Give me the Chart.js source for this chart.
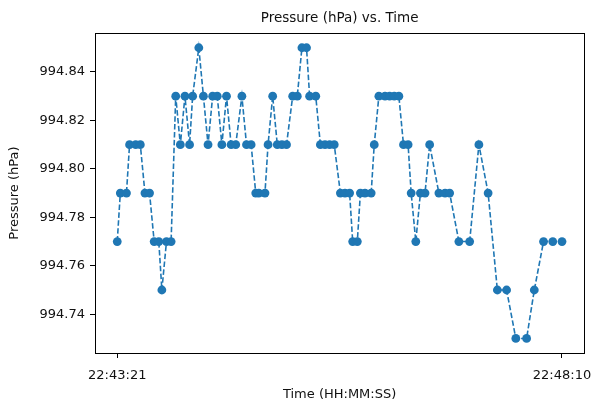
<!DOCTYPE html>
<html>
<head>
<meta charset="utf-8">
<script src="https://cdn.jsdelivr.net/npm/chart.js@4/dist/chart.umd.min.js"></script>
<style>
  html, body { margin: 0; padding: 0; background: #ffffff; }
  #wrap { width: 602px; height: 408px; }
</style>
</head>
<body>
<div id="wrap"><canvas id="c" width="602" height="408"></canvas></div>
<script>
// Sample timestamps (HH:MM:SS)
const times = [
  '22:43:21','22:43:23','22:43:27','22:43:29','22:43:33','22:43:36','22:43:39','22:43:42',
  '22:43:45','22:43:48','22:43:50','22:43:53','22:43:56','22:43:59','22:44:02','22:44:05',
  '22:44:08','22:44:10','22:44:14','22:44:17','22:44:20','22:44:23','22:44:26','22:44:29',
  '22:44:32','22:44:35','22:44:38','22:44:42','22:44:45','22:44:48','22:44:51','22:44:53',
  '22:44:57','22:44:59','22:45:02','22:45:05','22:45:08','22:45:11','22:45:15','22:45:18',
  '22:45:21','22:45:24','22:45:26','22:45:30','22:45:33','22:45:36','22:45:39','22:45:42',
  '22:45:46','22:45:49','22:45:52','22:45:54','22:45:57','22:45:59','22:46:02','22:46:06',
  '22:46:08','22:46:11','22:46:15','22:46:18','22:46:21','22:46:24','22:46:27','22:46:30',
  '22:46:32','22:46:35','22:46:38','22:46:41','22:46:44','22:46:50','22:46:54','22:46:57',
  '22:47:03','22:47:10','22:47:16','22:47:22','22:47:28','22:47:34','22:47:40','22:47:47',
  '22:47:52','22:47:58','22:48:04','22:48:10'
];

// Pressure readings (hPa)
const pressures = [
  994.77, 994.79, 994.79, 994.81, 994.81, 994.81, 994.79, 994.79,
  994.77, 994.77, 994.75, 994.77, 994.77, 994.83, 994.81, 994.83,
  994.81, 994.83, 994.85, 994.83, 994.81, 994.83, 994.83, 994.81,
  994.83, 994.81, 994.81, 994.83, 994.81, 994.81, 994.79, 994.79,
  994.79, 994.81, 994.83, 994.81, 994.81, 994.81, 994.83, 994.83,
  994.85, 994.85, 994.83, 994.83, 994.81, 994.81, 994.81, 994.81,
  994.79, 994.79, 994.79, 994.77, 994.77, 994.79, 994.79, 994.79,
  994.81, 994.83, 994.83, 994.83, 994.83, 994.83, 994.81, 994.81,
  994.79, 994.77, 994.79, 994.79, 994.81, 994.79, 994.79, 994.79,
  994.77, 994.77, 994.81, 994.79, 994.75, 994.75, 994.73, 994.73,
  994.75, 994.77, 994.77, 994.77
];

// Axis tick labels
const yTicks = [994.74, 994.76, 994.78, 994.80, 994.82, 994.84];
const xTickLabels = ['22:43:21', '22:48:10'];

const toSec = s => { const [h, m, x] = s.split(':').map(Number); return h * 3600 + m * 60 + x; };
const t0 = toSec(times[0]);
const points = times.map((t, i) => ({ x: toSec(t) - t0, y: pressures[i] }));
const xTickValues = xTickLabels.map(t => toSec(t) - t0);

// 5% margins around the data on both axes
const span = points[points.length - 1].x - points[0].x;
const yMin = Math.min(...pressures), yMax = Math.max(...pressures);
const yPad = (yMax - yMin) * 0.05;

const FONT = 'DejaVu Sans';
const INK = '#111111';

// Box around the plotting area
const frame = {
  id: 'frame',
  afterDatasetsDraw(chart) {
    const { ctx, chartArea: a } = chart;
    ctx.save();
    ctx.strokeStyle = '#000000';
    ctx.lineWidth = 1;
    ctx.strokeRect(Math.round(a.left) + 0.5, Math.round(a.top) + 0.5,
                   Math.round(a.right - a.left), Math.round(a.bottom - a.top));
    ctx.restore();
  }
};

new Chart(document.getElementById('c'), {
  type: 'line',
  data: {
    datasets: [{
      data: points,
      borderColor: '#1f77b4',
      backgroundColor: '#1f77b4',
      borderWidth: 1.6,
      borderDash: [5.5, 2.4],
      pointRadius: 4.4,
      pointHoverRadius: 4.4,
      pointBorderWidth: 0,
      tension: 0,
      fill: false
    }]
  },
  options: {
    responsive: false,
    animation: false,
    devicePixelRatio: 1,
    layout: { padding: { top: 0, right: 10, bottom: 0, left: 0 } },
    plugins: {
      legend: { display: false },
      tooltip: { enabled: false },
      title: {
        display: true,
        fullSize: false,
        text: 'Pressure (hPa) vs. Time',
        color: INK,
        font: { family: FONT, size: 13.5, weight: 'normal' },
        padding: { top: 10, bottom: 7 }
      }
    },
    scales: {
      x: {
        type: 'linear',
        min: -0.05 * span,
        max: span * 1.05,
        afterFit(scale) { scale.height = 55; },
        afterBuildTicks(scale) { scale.ticks = xTickValues.map(v => ({ value: v })); },
        ticks: {
          color: INK,
          font: { family: FONT, size: 13 },
          padding: 10,
          maxRotation: 0,
          callback: (v, i) => xTickLabels[i]
        },
        grid: { drawOnChartArea: false, drawTicks: true, tickLength: 5, tickColor: '#000000' },
        border: { display: false },
        title: {
          display: true,
          text: 'Time (HH:MM:SS)',
          color: INK,
          font: { family: FONT, size: 13 },
          padding: { top: 0, bottom: 6 }
        }
      },
      y: {
        type: 'linear',
        min: yMin - yPad,
        max: yMax + yPad,
        afterFit(scale) { scale.width = 95; },
        afterBuildTicks(scale) { scale.ticks = yTicks.map(v => ({ value: v })); },
        ticks: {
          color: INK,
          font: { family: FONT, size: 13 },
          padding: 5,
          callback: v => Number(v).toFixed(2)
        },
        grid: { drawOnChartArea: false, drawTicks: true, tickLength: 5, tickColor: '#000000' },
        border: { display: false },
        title: {
          display: true,
          text: 'Pressure (hPa)',
          color: INK,
          font: { family: FONT, size: 13 },
          padding: { top: 7, bottom: 0 }
        }
      }
    }
  },
  plugins: [frame]
});
</script>
</body>
</html>
